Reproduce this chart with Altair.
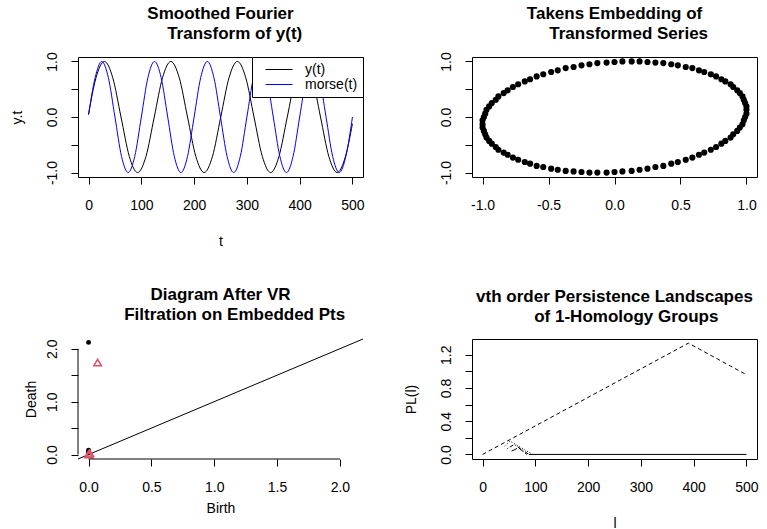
import altair as alt
import pandas as pd

FONT = "Liberation Sans"
# leading indent for the second title line: a zero-width space keeps the
# non-breaking spaces from being trimmed away
INDENT = "\u200b" + "\u00a0" * 6
W, H = 285, 120

# ---- smoothed Fourier transform y(t) and the Morse wave, sampled along t ----
yt_t = [0, 14.25, 30, 45.75, 61.5, 77.25, 93, 108.75, 124.5, 140.25, 156, 171.75,
        187.5, 203.25, 219, 234.75, 250.5, 266.25, 282, 297.75, 313.5, 329.25, 345,
        360.75, 376.5, 392.25, 408, 423.75, 439.5, 455.25, 471, 486.75, 500]
yt_v = [0.05, 0.71, 1, 0.71, 0, -0.71, -1, -0.71, 0, 0.71, 1, 0.71, 0, -0.71, -1, -0.71,
        0, 0.71, 1, 0.71, 0, -0.71, -1, -0.71, 0, 0.71, 1, 0.71, 0, -0.71, -1, -0.71, -0.12]
morse_t = [0, 12.5, 25, 37.5, 50, 62.5, 75, 87.5, 100, 112.5, 125, 137.5, 150, 162.5,
           175, 187.5, 200, 212.5, 225, 237.5, 250, 262.5, 275, 287.5, 300, 312.5, 325,
           337.5, 350, 362.5, 375, 387.5, 400, 412.5, 425, 437.5, 450, 462.5, 475, 487.5, 500]
morse_v = [0.04, 0.71, 1, 0.71, 0, -0.71, -1, -0.71, 0, 0.71, 1, 0.71, 0, -0.71, -1, -0.71,
           0, 0.71, 1, 0.71, 0, -0.71, -1, -0.71, 0, 0.71, 1, 0.71, 0, -0.71, -1, -0.71,
           0, 0.71, 1, 0.71, 0, -0.71, -1, -0.71, 0]
series_names = ["y(t)", "morse(t)"]
series_colors = ["black", "blue"]

# ---- Takens embedding of the transformed series ----
emb_x = [0.00, 0.06, 0.13, 0.19, 0.25, 0.31, 0.37, 0.43, 0.48, 0.54,
         0.59, 0.64, 0.68, 0.73, 0.77, 0.81, 0.84, 0.88, 0.90, 0.93,
         0.95, 0.97, 0.98, 0.99, 1.00, 1.00, 1.00, 0.99, 0.98, 0.97,
         0.95, 0.93, 0.90, 0.88, 0.84, 0.81, 0.77, 0.73, 0.68, 0.64,
         0.59, 0.54, 0.48, 0.43, 0.37, 0.31, 0.25, 0.19, 0.13, 0.06,
         0.00, -0.06, -0.13, -0.19, -0.25, -0.31, -0.37, -0.43, -0.48, -0.54,
         -0.59, -0.64, -0.68, -0.73, -0.77, -0.81, -0.84, -0.88, -0.90, -0.93,
         -0.95, -0.97, -0.98, -0.99, -1.00, -1.00, -1.00, -0.99, -0.98, -0.97,
         -0.95, -0.93, -0.90, -0.88, -0.84, -0.81, -0.77, -0.73, -0.68, -0.64,
         -0.59, -0.54, -0.48, -0.43, -0.37, -0.31, -0.25, -0.19, -0.13, -0.06]
emb_y = [0.99, 1.00, 1.00, 1.00, 0.99, 0.98, 0.97, 0.95, 0.93, 0.90,
         0.88, 0.84, 0.81, 0.77, 0.73, 0.68, 0.64, 0.59, 0.54, 0.48,
         0.43, 0.37, 0.31, 0.25, 0.19, 0.13, 0.06, 0.00, -0.06, -0.13,
         -0.19, -0.25, -0.31, -0.37, -0.43, -0.48, -0.54, -0.59, -0.64, -0.68,
         -0.73, -0.77, -0.81, -0.84, -0.88, -0.90, -0.93, -0.95, -0.97, -0.98,
         -0.99, -1.00, -1.00, -1.00, -0.99, -0.98, -0.97, -0.95, -0.93, -0.90,
         -0.88, -0.84, -0.81, -0.77, -0.73, -0.68, -0.64, -0.59, -0.54, -0.48,
         -0.43, -0.37, -0.31, -0.25, -0.19, -0.13, -0.06, 0.00, 0.06, 0.13,
         0.19, 0.25, 0.31, 0.37, 0.43, 0.48, 0.54, 0.59, 0.64, 0.68,
         0.73, 0.77, 0.81, 0.84, 0.88, 0.90, 0.93, 0.95, 0.97, 0.98]

# ---- persistence diagram after the Vietoris-Rips filtration ----
dim0_birth = [0.0, 0.0, 0.0, 0.0]
dim0_death = [2.12, 0.08, 0.05, 0.03]
dim1_birth = [0.072, 0.0, 0.01, 0.005]
dim1_death = [1.74, 0.01, 0.025, 0.0]
diag_span = [-0.084, 2.184]

# ---- persistence landscapes of the 1-homology groups ----
land1_l, land1_pl = [0, 390, 500], [0, 1.34, 0.96]
land2_l, land2_pl = [42, 52, 95], [0.10, 0.16, 0.0]
land3_l, land3_pl = [47, 60, 88], [0.07, 0.12, 0.0]
land4_l, land4_pl = [55, 68, 84], [0.04, 0.08, 0.0]
flat_l, flat_pl = [88, 500], [0.0, 0.0]

# ---- tick positions ----
ticks_t = [0, 100, 200, 300, 400, 500]
ticks_unit = [-1, -0.5, 0, 0.5, 1]
ticks_diag = [0, 0.5, 1, 1.5, 2]
ticks_pl = [0, 0.2, 0.4, 0.6, 0.8, 1.0, 1.2]

SIGNED = "(datum.value < 0 ? '-' : '') + format(abs(datum.value), '.1f')"


def x_axis(values, title=None, expr=None, title_y=68):
    opts = dict(values=values, domain=False, grid=False, ticks=True, tickSize=7,
                tickColor="black", tickWidth=1, labelFont=FONT, labelFontSize=14,
                labelColor="black", labelPadding=25, labelBaseline="alphabetic",
                labelAlign="center", labelAngle=0, labelFlush=False, labelOverlap=False)
    if expr:
        opts["labelExpr"] = expr
    if title:
        opts.update(title=title, titleFont=FONT, titleFontSize=14, titleFontWeight="normal",
                    titleColor="black", titleX=W / 2, titleY=title_y, titleAlign="center",
                    titleBaseline="alphabetic", titleAngle=0)
    else:
        opts["title"] = None
    return alt.Axis(**opts)


def y_axis(values, expr, title=None, title_x=-57):
    opts = dict(values=values, domain=False, grid=False, ticks=True, tickSize=7,
                tickColor="black", tickWidth=1, labelFont=FONT, labelFontSize=14,
                labelColor="black", labelPadding=15, labelAngle=270, labelAlign="center",
                labelBaseline="alphabetic", labelFlush=False, labelOverlap=False,
                labelExpr=expr)
    if title:
        opts.update(title=title, titleFont=FONT, titleFontSize=14, titleFontWeight="normal",
                    titleColor="black", titleX=title_x, titleY=H / 2, titleAngle=270,
                    titleAlign="center", titleBaseline="alphabetic")
    else:
        opts["title"] = None
    return alt.Axis(**opts)


def panel_title(lines, offset):
    return alt.TitleParams(text=lines, font=FONT, fontSize=17, fontWeight="bold",
                           color="black", anchor="middle", frame="group",
                           baseline="bottom", lineHeight=20, offset=offset)


# ---------------- panel 1: y(t) and morse(t) ----------------
df_y = pd.DataFrame({"t": yt_t, "v": yt_v, "series": series_names[0]})
df_m = pd.DataFrame({"t": morse_t, "v": morse_v, "series": series_names[1]})

x1 = alt.X("t:Q", scale=alt.Scale(domain=[-20, 520], nice=False, zero=False),
           axis=x_axis(ticks_t, "t", "format(datum.value, 'd')"))
y1 = alt.Y("v:Q", scale=alt.Scale(domain=[-1.08, 1.08], nice=False, zero=False),
           axis=y_axis(ticks_unit, "abs(datum.value) == 0.5 ? '' : " + SIGNED, "y.t"))
c1 = alt.Color("series:N", scale=alt.Scale(domain=series_names, range=series_colors),
               legend=alt.Legend(title=None, orient="top-right", offset=0, padding=5,
                                 strokeColor="black", fillColor="white", cornerRadius=0,
                                 symbolType="stroke", symbolSize=729, symbolStrokeWidth=1,
                                 clipHeight=15, rowPadding=0, symbolOffset=8,
                                 labelFont=FONT, labelFontSize=14, labelColor="black",
                                 labelOffset=12))

line_y = alt.Chart(df_y).mark_line(strokeWidth=1, interpolate="monotone").encode(x=x1, y=y1, color=c1)
line_m = alt.Chart(df_m).mark_line(strokeWidth=1, interpolate="monotone").encode(x=x1, y=y1, color=c1)
p1 = alt.layer(line_y, line_m).properties(
    width=W, height=H,
    title=panel_title(["Smoothed Fourier", INDENT + "Transform of y(t)"], -8))

# ---------------- panel 2: Takens embedding ----------------
df_emb = pd.DataFrame({"a": emb_x, "b": emb_y})
p2 = alt.Chart(df_emb).mark_point(filled=True, shape="circle", size=38, color="black",
                                  opacity=1).encode(
    x=alt.X("a:Q", scale=alt.Scale(domain=[-1.08, 1.08], nice=False, zero=False),
            axis=x_axis(ticks_unit, None, SIGNED)),
    y=alt.Y("b:Q", scale=alt.Scale(domain=[-1.08, 1.08], nice=False, zero=False),
            axis=y_axis(ticks_unit, "abs(datum.value) == 0.5 ? '' : " + SIGNED)),
).properties(width=W, height=H,
             title=panel_title(["Takens Embedding of", INDENT + "Transformed Series"], -8))

# ---------------- panel 3: persistence diagram ----------------
dscale = alt.Scale(domain=diag_span, nice=False, zero=False)
ax3x = x_axis(ticks_diag, "Birth", "format(datum.value, '.1f')", title_y=53)
ax3y = y_axis(ticks_diag, "datum.value % 1 == 0 ? format(datum.value, '.1f') : ''",
              "Death", title_x=-43)
x3 = alt.X("birth:Q", scale=dscale, axis=ax3x)
y3 = alt.Y("death:Q", scale=dscale, axis=ax3y)

df_d0 = pd.DataFrame({"birth": dim0_birth, "death": dim0_death})
df_d1 = pd.DataFrame({"birth": dim1_birth, "death": dim1_death})
df_diag = pd.DataFrame({"birth": diag_span, "death": diag_span})
df_xline = pd.DataFrame({"birth": [min(ticks_diag)], "birth_end": [max(ticks_diag)]})
df_yline = pd.DataFrame({"death": [min(ticks_diag)], "death_end": [max(ticks_diag)]})

diag_line = alt.Chart(df_diag).mark_line(color="black", strokeWidth=1).encode(x=x3, y=y3)
pts0 = alt.Chart(df_d0).mark_point(filled=True, shape="circle", size=24, color="black",
                                   opacity=1).encode(x=x3, y=y3)
pts1 = alt.Chart(df_d1).mark_point(filled=False, shape="triangle-up", size=55,
                                   color="#DF536B", strokeWidth=1.6, opacity=1).encode(x=x3, y=y3)
xline = alt.Chart(df_xline).mark_rule(color="black", strokeWidth=1).encode(
    x=x3, x2="birth_end:Q", y=alt.value(H))
yline = alt.Chart(df_yline).mark_rule(color="black", strokeWidth=1).encode(
    y=y3, y2="death_end:Q", x=alt.value(0))
p3 = alt.layer(diag_line, pts0, pts1, xline, yline).properties(
    width=W, height=H, view=alt.ViewBackground(stroke="transparent"),
    title=panel_title(["Diagram After VR", INDENT + "Filtration on Embedded Pts"], -4))

# ---------------- panel 4: persistence landscapes ----------------
x4 = alt.X("l:Q", scale=alt.Scale(domain=[-20, 520], nice=False, zero=False),
           axis=x_axis(ticks_t, "l", "format(datum.value, 'd')"))
y4 = alt.Y("pl:Q", scale=alt.Scale(domain=[-0.055, 1.39], nice=False, zero=False),
           axis=y_axis(ticks_pl,
                       "round(datum.value * 10) % 4 == 0 ? format(datum.value, '.1f') : ''",
                       "PL(l)"))


def landscape(ls, pls, dash):
    df = pd.DataFrame({"l": ls, "pl": pls})
    kw = dict(color="black", strokeWidth=1)
    if dash:
        kw["strokeDash"] = dash
    return alt.Chart(df).mark_line(**kw).encode(x=x4, y=y4)


p4 = alt.layer(
    landscape(flat_l, flat_pl, None),
    landscape(land1_l, land1_pl, [4, 3]),
    landscape(land2_l, land2_pl, [1, 2]),
    landscape(land3_l, land3_pl, [1, 2, 4, 2]),
    landscape(land4_l, land4_pl, [6, 2]),
).properties(width=W, height=H,
             title=panel_title(["vth order Persistence Landscapes",
                                "\u200b" + "\u00a0" * 5 + "of 1-Homology Groups"], -4))

chart = alt.concat(
    p1, p2, p3, p4, columns=2, spacing={"row": 162, "column": 109}, bounds="flush",
    padding={"left": 9, "top": 4, "right": 6, "bottom": 4},
).resolve_scale(
    x="independent", y="independent", color="independent"
).resolve_legend(color="independent").configure(
    font=FONT, background="white"
).configure_view(stroke="black", strokeWidth=1)

chart.save("out.html", embed_options={"renderer": "svg", "actions": False})
